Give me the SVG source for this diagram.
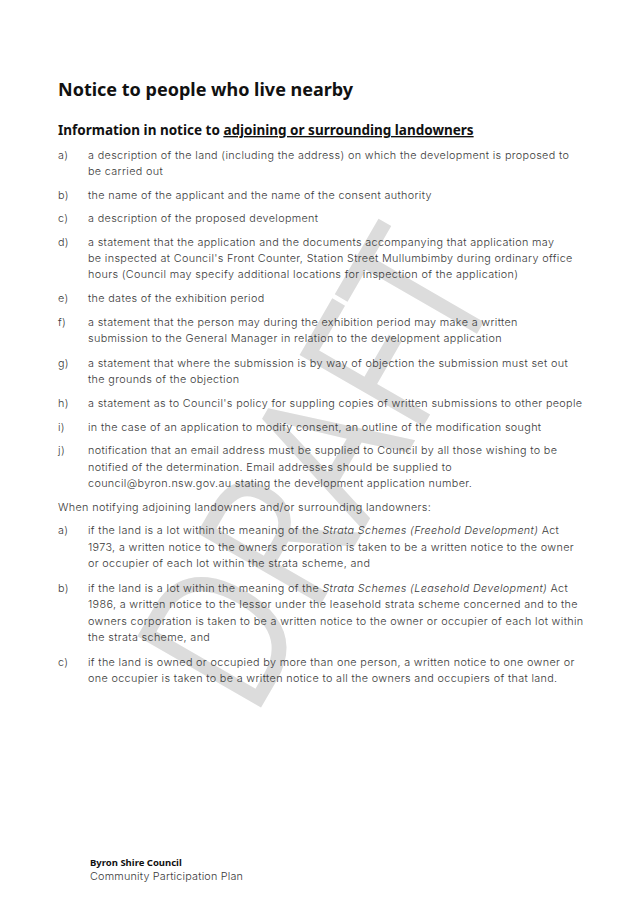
<svg xmlns="http://www.w3.org/2000/svg" width="638" height="900" viewBox="0 0 638 900">
<style>
.t{font-family:Inter,"Open Sans",sans-serif;font-weight:300;font-size:10.8px;letter-spacing:0.35px;fill:#3a3a3a}
.h{font-family:"Noto Sans","Open Sans",sans-serif;font-weight:700;fill:#111}
.wm{font-family:"Open Sans","Liberation Sans",sans-serif;font-weight:500;font-size:200px;fill:#dcdcdc}
</style>
<rect width="638" height="900" fill="#fff"/>
<text class="wm" x="0" y="0" text-anchor="middle" transform="translate(378,505) rotate(-60)" textLength="500" lengthAdjust="spacingAndGlyphs">DRAFT</text>
<text class="h" x="58" y="96" font-size="18">Notice to people who live nearby</text>
<text class="h" x="58" y="135" font-size="13.5">Information in notice to <tspan text-decoration="underline">adjoining or surrounding landowners</tspan></text>
<g class="t">
<text x="58" y="159">a)</text><text x="88" y="159">a description of the land (including the address) on which the development is proposed to</text>
<text x="88" y="175">be carried out</text>
<text x="58" y="199">b)</text><text x="88" y="199">the name of the applicant and the name of the consent authority</text>
<text x="58" y="222">c)</text><text x="88" y="222">a description of the proposed development</text>
<text x="58" y="246">d)</text><text x="88" y="246">a statement that the application and the documents accompanying that application may</text>
<text x="88" y="262">be inspected at Council's Front Counter, Station Street Mullumbimby during ordinary office</text>
<text x="88" y="278">hours (Council may specify additional locations for inspection of the application)</text>
<text x="58" y="302">e)</text><text x="88" y="302">the dates of the exhibition period</text>
<text x="58" y="326">f)</text><text x="88" y="326"> a statement that the person may during the exhibition period may make a written</text>
<text x="88" y="342">submission to the General Manager in relation to the development application</text>
<text x="58" y="367">g)</text><text x="88" y="367">a statement that where the submission is by way of objection the submission must set out</text>
<text x="88" y="383">the grounds of the objection</text>
<text x="58" y="407">h)</text><text x="88" y="407">a statement as to Council's policy for suppling copies of written submissions to other people</text>
<text x="58" y="431">i)</text><text x="88" y="431">in the case of an application to modify consent, an outline of the modification sought</text>
<text x="58" y="454">j)</text><text x="88" y="454">notification that an email address must be supplied to Council by all those wishing to be</text>
<text x="88" y="471">notified of the determination. Email addresses should be supplied to</text>
<text x="88" y="487">council@byron.nsw.gov.au stating the development application number.</text>
<text x="58" y="511">When notifying adjoining landowners and/or surrounding landowners:</text>
<text x="58" y="534">a)</text><text x="88" y="534">if the land is a lot within the meaning of the <tspan font-style="italic">Strata Schemes (Freehold Development)</tspan> Act</text>
<text x="88" y="551">1973, a written notice to the owners corporation is taken to be a written notice to the owner</text>
<text x="88" y="567">or occupier of each lot within the strata scheme, and</text>
<text x="58" y="592">b)</text><text x="88" y="592">if the land is a lot within the meaning of the <tspan font-style="italic">Strata Schemes (Leasehold Development)</tspan> Act</text>
<text x="88" y="608">1986, a written notice to the lessor under the leasehold strata scheme concerned and to the</text>
<text x="88" y="625">owners corporation is taken to be a written notice to the owner or occupier of each lot within</text>
<text x="88" y="641">the strata scheme, and</text>
<text x="58" y="666">c)</text><text x="88" y="666"> if the land is owned or occupied by more than one person, a written notice to one owner or</text>
<text x="88" y="682">one occupier is taken to be a written notice to all the owners and occupiers of that land.</text>
</g>
<text class="h" x="90" y="866" font-size="9.5">Byron Shire Council</text>
<text class="t" x="90" y="880" font-size="9.5" style="letter-spacing:0.2px">Community Participation Plan</text>
</svg>
